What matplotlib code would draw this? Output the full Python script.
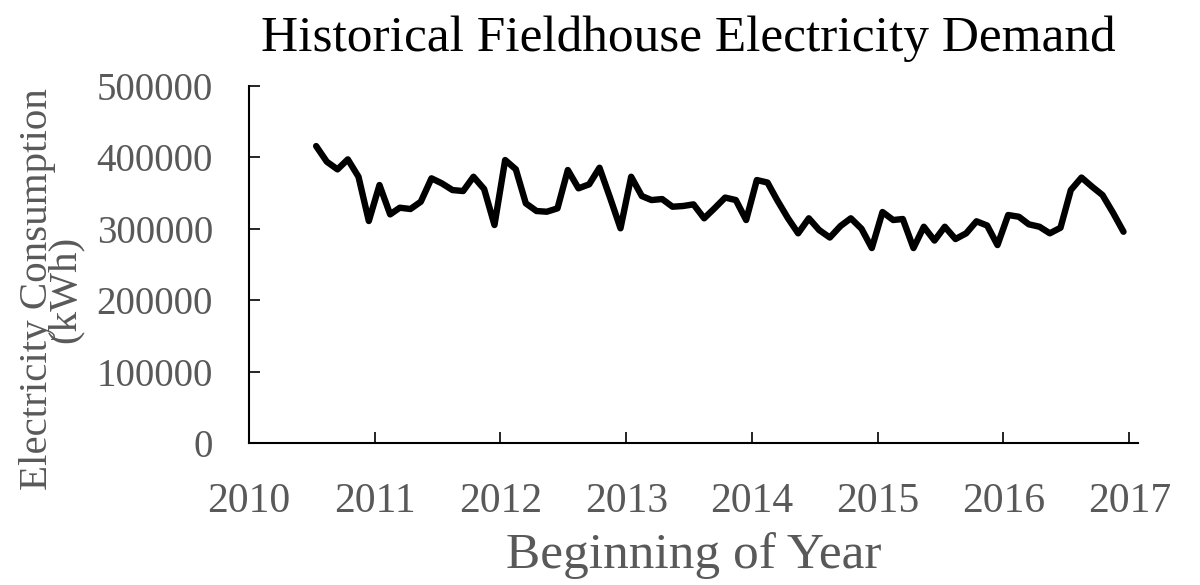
import matplotlib
matplotlib.use("Agg")
import matplotlib.pyplot as plt
import matplotlib.dates as mdates
import pandas as pd
from datetime import datetime

# Monthly data, July 2010 - December 2016
start_month = "2010-07"
consumption_kwh = [
    415600, 393700, 383000, 397000, 372700, 310800,   # 2010 Jul-Dec
    361100, 320100, 329400, 327600, 337800, 370500,   # 2011 Jan-Jun
    363500, 354100, 352700, 372700, 355500, 305200,   # 2011 Jul-Dec
    396100, 383100, 335500, 324800, 323800, 328500,   # 2012 Jan-Jun
    382100, 356500, 362100, 385300, 343000, 300600,   # 2012 Jul-Dec
    372700, 345700, 340100, 341500, 330800, 331800,   # 2013 Jan-Jun
    334100, 314600, 329000, 343600, 340100, 312200,   # 2013 Jul-Dec
    368100, 364600, 340100, 315000, 293600, 314600,   # 2014 Jan-Jun
    298200, 287700, 303800, 314600, 300000, 273000,   # 2014 Jul-Dec
    323400, 312200, 313600, 273000, 302800, 283500,   # 2015 Jan-Jun
    302800, 285600, 293600, 310400, 304500, 277200,   # 2015 Jul-Dec
    319200, 316800, 306200, 302800, 293600, 301400,   # 2016 Jan-Jun
    354100, 371600, 358700, 347100, 322000, 295800,   # 2016 Jul-Dec
]
yticks = [0, 100000, 200000, 300000, 400000, 500000]
title = "Historical Fieldhouse Electricity Demand"
xlabel = "Beginning of Year"
ylabel = "Electricity Consumption\n(kWh)"

dates = pd.date_range(start=start_month + "-01", periods=len(consumption_kwh), freq="MS") + pd.Timedelta(days=14)

plt.rcParams['font.family'] = ['Liberation Serif', 'DejaVu Serif']
gray = "#595959"

fig = plt.figure(figsize=(12, 5.85), dpi=100)
ax = fig.add_axes([0.2075, 0.2422, 0.7408, 0.6113])

ax.plot(dates, consumption_kwh, color="black", lw=4.6, solid_joinstyle="round", solid_capstyle="round")

ax.set_ylim(0, 500000)
ax.set_yticks(yticks)
ax.set_yticklabels([str(v) for v in yticks])
ax.set_xlim(datetime(2010, 1, 1), datetime(2017, 1, 26))
ax.xaxis.set_major_locator(mdates.YearLocator())
ax.xaxis.set_major_formatter(mdates.DateFormatter("%Y"))

for s in ["top", "right"]:
    ax.spines[s].set_visible(False)
for s in ["left", "bottom"]:
    ax.spines[s].set_linewidth(1.5)
    ax.spines[s].set_color("black")

ax.tick_params(axis="both", direction="in", length=8, width=1.2, color="black",
               labelcolor=gray)
ax.tick_params(axis="y", pad=26, labelsize=28)
ax.tick_params(axis="x", pad=28, labelsize=30)

ax.set_title(title, fontsize=37, color="black", pad=25, x=0.494)
ax.set_xlabel(xlabel, fontsize=37, color=gray, labelpad=8)
ax.set_ylabel(ylabel, fontsize=29.5, color=gray, linespacing=0.68)
ax.yaxis.set_label_coords(-0.186, 0.43)

fig.savefig("out.png", dpi=100)
